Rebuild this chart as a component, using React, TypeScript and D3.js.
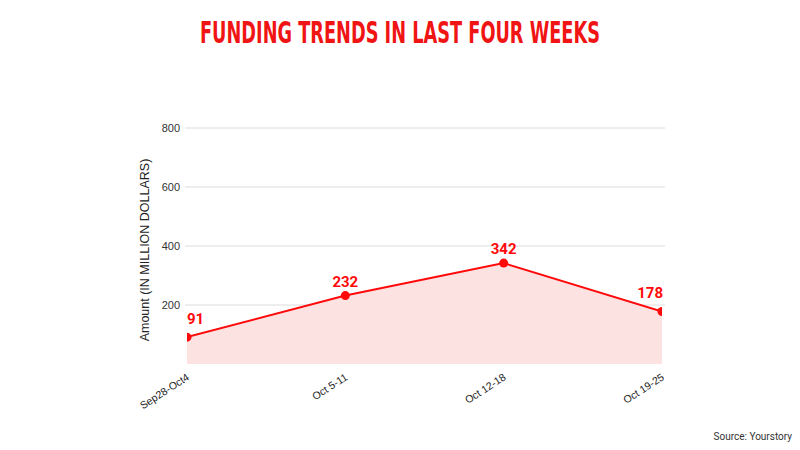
import React from "react";
import * as d3 from "d3";

const categories = ["Sep28-Oct4", "Oct 5-11", "Oct 12-18", "Oct 19-25"];
const values = [91, 232, 342, 178];
const yTicks = [200, 400, 600, 800];

export default function App() {
  const W = 800, H = 450;
  const x0 = 187, x1 = 662, yTop = 128, yBot = 364;
  const x = d3.scalePoint<string>().domain(categories).range([x0, x1]);
  const y = d3.scaleLinear().domain([0, 800]).range([yBot, yTop]);
  const pts = categories.map((c, i) => ({ c, v: values[i] }));
  const line = d3.line<any>().x((d) => x(d.c)!).y((d) => y(d.v));
  const area = d3.area<any>().x((d) => x(d.c)!).y0(y(0)).y1((d) => y(d.v));
  const red = "#ff0a0a";
  return (
    <svg width={W} height={H} style={{ position: "absolute", left: 0, top: 0, background: "#fff" }}>
      <defs>
        <clipPath id="plotclip">
          <rect x={x0} y={yTop - 20} width={x1 - x0} height={yBot - yTop + 20} />
        </clipPath>
      </defs>
      <rect width={W} height={H} fill="#fff" />
      <text x={400} y={43} textAnchor="middle" fill="#f01414"
        style={{ fontFamily: "'Liberation Sans Narrow', 'DejaVu Sans Condensed', sans-serif", fontWeight: 700, fontSize: 31 }}
        textLength={400} lengthAdjust="spacingAndGlyphs">FUNDING TRENDS IN LAST FOUR WEEKS</text>
      {yTicks.map((t) => (
        <g key={t}>
          <line x1={185} x2={665} y1={y(t)} y2={y(t)} stroke="#dcdcdc" strokeWidth={1} />
          <text x={180} y={y(t) + 4} textAnchor="end" fill="#333"
            style={{ fontFamily: "'Liberation Sans', Arial, sans-serif", fontSize: 11 }}>{t}</text>
        </g>
      ))}
      <text transform={`translate(149,250) rotate(-90)`} textAnchor="middle" fill="#222"
        style={{ fontFamily: "'Liberation Sans', Arial, sans-serif", fontSize: 12.5 }}>Amount (IN MILLION DOLLARS)</text>
      <g clipPath="url(#plotclip)">
        <path d={area(pts)!} fill="#fde2e2" />
        <path d={line(pts)!} fill="none" stroke={red} strokeWidth={2} />
        {pts.map((d) => (
          <circle key={d.c} cx={x(d.c)} cy={y(d.v)} r={4.5} fill={red} />
        ))}
      </g>
      {pts.map((d, i) => {
        const anchor = i === 0 ? "start" : i === pts.length - 1 ? "end" : "middle";
        const off = i === 0 || i === pts.length - 1 ? 13 : 9;
        return (
          <text key={d.c} x={x(d.c)! + (i === pts.length - 1 ? 1 : 0)} y={y(d.v) - off} textAnchor={anchor} fill={red}
            style={{ fontFamily: "Roboto, sans-serif", fontWeight: 700, fontSize: 15 }}>{d.v}</text>
        );
      })}
      {categories.map((c) => (
        <text key={c} transform={`translate(${x(c)! + 3},379) rotate(-33)`} textAnchor="end" fill="#222"
          style={{ fontFamily: "'Liberation Sans', Arial, sans-serif", fontSize: 10.5 }}>{c}</text>
      ))}
      <text x={792} y={440} textAnchor="end" fill="#333"
        style={{ fontFamily: "Roboto, sans-serif", fontSize: 10 }}>Source: Yourstory</text>
    </svg>
  );
}
